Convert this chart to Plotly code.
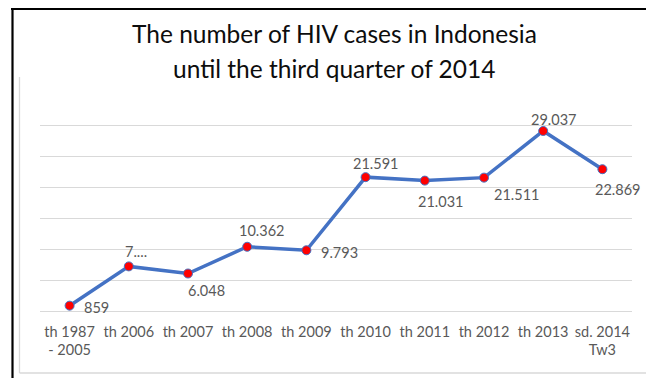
import plotly.graph_objects as go

categories = ["th 1987<br>- 2005", "th 2006", "th 2007", "th 2008", "th 2009",
              "th 2010", "th 2011", "th 2012", "th 2013", "sd. 2014<br>Tw3"]
cases = [859, 7195, 6048, 10362, 9793, 21591, 21031, 21511, 29037, 22869]
value_labels = ["859", "7....", "6.048", "10.362", "9.793", "21.591",
                "21.031", "21.511", "29.037", "22.869"]
y_ticks = [0, 5000, 10000, 15000, 20000, 25000, 30000, 35000]
title_lines = ["The number of HIV cases in Indonesia", "until the third quarter of 2014"]

# label offsets (pixels) relative to each point: (dx, dy up)
label_offsets = [(27, -2), (7, 15), (18, -17), (14, 16), (33, -2),
                 (10, 14), (16, -21), (32, -17), (10, 11), (15, -20)]

W, H = 646, 378
L, R, T, B = 40, 14, 94, 67
PW, PH = W - L - R, H - T - B

def px(x):
    return (x - L) / PW

def py(y):
    return (H - B - y) / PH

FONT = "Lato"
GRAY_TXT = "#595959"

fig = go.Figure()
fig.add_trace(go.Scatter(
    x=categories, y=cases, mode="lines+markers",
    line=dict(color="#4472C4", width=3.5),
    marker=dict(color="#FF0000", size=9, line=dict(color="#4472C4", width=1)),
    hoverinfo="skip", showlegend=False,
))

annotations = []
for c, v, t, (dx, dy) in zip(categories, cases, value_labels, label_offsets):
    annotations.append(dict(x=c, y=v, xref="x", yref="y", text=t, showarrow=False,
                            xshift=dx, yshift=dy, xanchor="center", yanchor="middle",
                            font=dict(family=FONT, size=14.5, color=GRAY_TXT)))

title_y = [33, 69]
for line, ty in zip(title_lines, title_y):
    annotations.append(dict(x=px(334), y=py(ty), xref="paper", yref="paper", text=line,
                            showarrow=False, xanchor="center", yanchor="middle",
                            font=dict(family=FONT, size=24.5, color="#0d0d0d")))

shapes = [
    # outer black border (top & left)
    dict(type="line", xref="paper", yref="paper", x0=px(11), x1=px(646), y0=py(9), y1=py(9),
         line=dict(color="#000000", width=2.2)),
    dict(type="line", xref="paper", yref="paper", x0=px(12.5), x1=px(12.5), y0=py(8), y1=py(378),
         line=dict(color="#000000", width=2.2)),
    # light chart frame
    dict(type="line", xref="paper", yref="paper", x0=px(19.5), x1=px(19.5), y0=py(77), y1=py(373),
         line=dict(color="#D9D9D9", width=1.3)),
    dict(type="line", xref="paper", yref="paper", x0=px(19.5), x1=px(646), y0=py(373), y1=py(373),
         line=dict(color="#D9D9D9", width=1.3)),
]

fig.update_layout(
    width=W, height=H,
    margin=dict(l=L, r=R, t=T, b=B),
    paper_bgcolor="white", plot_bgcolor="white",
    annotations=annotations, shapes=shapes,
    xaxis=dict(type="category", range=[-0.5, len(categories) - 0.5], showgrid=False,
               showline=False, ticks="", zeroline=False, ticklabelstandoff=10,
               tickfont=dict(family=FONT, size=14.5, color=GRAY_TXT), tickangle=0),
    yaxis=dict(range=[0, 35000], tickvals=y_ticks, showticklabels=False, showgrid=True,
               gridcolor="#D9D9D9", gridwidth=1.3, zeroline=True, zerolinecolor="#D9D9D9",
               zerolinewidth=1.3, showline=False, ticks=""),
)

fig.write_html("out.html")
